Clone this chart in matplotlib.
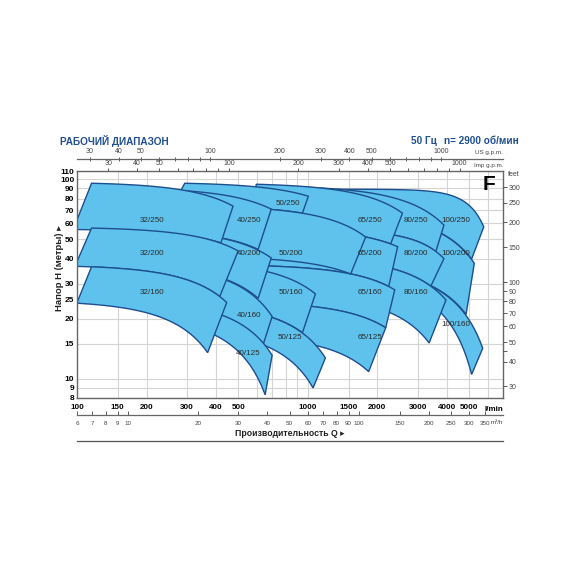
import numpy as np
import matplotlib
matplotlib.use('Agg')
import matplotlib.pyplot as plt
from matplotlib.patches import Polygon
from matplotlib.lines import Line2D

# ---------------- data ----------------
pumps = ['100/250', '100/200', '100/160', '80/250', '80/200', '80/160',
         '65/250', '65/200', '65/160', '65/125',
         '50/250', '50/200', '50/160', '50/125',
         '40/250', '40/200', '40/160', '40/125',
         '32/250', '32/200', '32/160']
# corner points (Q in l/min, H in m): top-left, top-right, bottom-right, bottom-left
tl_q = [597, 597, 597, 597, 597, 597, 597, 597, 597, 725, 293, 259, 259, 322, 259, 259, 259, 269, 115.6, 115.6, 115.6]
tl_h = [89.15, 69.6, 37.1, 92.5, 56.0, 40.9, 94.4, 56.7, 36.9, 23.8, 95.5, 73.5, 38.5, 23.4, 88.4, 54.4, 35.9, 23.5, 95.5, 56.9, 36.4]
tr_q = [5778, 5258, 5718, 3884, 3884, 3964, 2568, 2448, 2378, 2173, 1005, 1779, 1078, 1191, 694, 694, 700, 700, 474, 499, 445]
tr_h = [57.7, 37.9, 14.2, 58.9, 40.0, 24.8, 67.6, 45.9, 27.9, 18.0, 82.2, 51.3, 26.6, 12.7, 70.8, 40.3, 20.5, 13.1, 73.3, 43.7, 24.1]
br_q = [5119, 4844, 5119, 3582, 3407, 3351, 2283, 2239, 2173, 1833, 947, 1532, 947, 1053, 609, 609, 640, 653, 420, 415, 368]
br_h = [39.8, 21.0, 10.5, 43.4, 29.1, 15.1, 47.4, 29.0, 18.0, 10.84, 67.6, 33.5, 17.0, 8.98, 44.5, 25.3, 14.8, 8.3, 48.0, 25.8, 13.5]
bl_q = [597, 597, 597, 597, 597, 597, 597, 597, 597, 725, 259, 259, 259, 322, 259, 259, 259, 269, 96.3, 98.0, 99.8]
bl_h = [69.6, 37.1, 34.0, 56.0, 40.9, 26.4, 56.7, 36.9, 24.0, 15.8, 73.5, 41.0, 23.7, 17.3, 54.4, 35.9, 23.6, 19.1, 56.0, 36.6, 23.9]
top_n = [5, 2, 2, 2, 3, 2, 2, 2, 2, 2, 2, 2, 2, 2, 2, 2, 2, 2, 2, 2, 2]
bot_n = [2, 2, 2, 3, 2, 2, 2, 2, 2, 2, 2, 2, 2, 2, 2, 2, 2, 2, 2, 2, 2]
label_q = [4378, 4378, 4378, 2934, 2934, 2934, 1851, 1851, 1851, 1851, 822, 840, 840, 840, 556, 556, 556, 551, 212, 212, 212]
label_h = [62.4, 42.2, 18.6, 62.4, 42.2, 26.9, 62.4, 42.2, 26.9, 16.0, 75.9, 42.2, 26.9, 16.0, 62.4, 42.2, 20.7, 13.3, 62.4, 42.2, 26.9]

x_ticks = [100, 150, 200, 300, 400, 500, 1000, 1500, 2000, 3000, 4000, 5000]
x_grid = [150, 200, 300, 400, 500, 600, 700, 800, 900, 1000, 1500, 2000, 3000, 4000, 5000, 6000]
y_ticks = [8, 9, 10, 15, 20, 25, 30, 40, 50, 60, 70, 80, 90, 100, 110]
ft_ticks = [30, 40, 50, 60, 70, 80, 90, 100, 150, 200, 250, 300]
ft_minor = [45]
us_ticks = [30, 40, 50, 100, 200, 300, 400, 500, 1000]
imp_ticks = [30, 40, 50, 100, 200, 300, 400, 500, 1000]
m3h_ticks = [6, 7, 8, 9, 10, 20, 30, 40, 50, 60, 70, 80, 90, 100, 150, 200, 250, 300, 350]

L_PER_USG = 3.785
L_PER_IMPG = 4.546
L_PER_M3H = 1000 / 60.0
M_TO_FT = 3.28084

FONT = ['Liberation Sans Narrow', 'Liberation Sans', 'DejaVu Sans']
plt.rcParams['font.family'] = FONT

FILL = '#5EC2EC'
EDGE = '#1D4E8E'
BLUE_T = '#1F4E92'

QMIN, QMAX = 100, 7000
HMIN, HMAX = 8, 110

fig = plt.figure(figsize=(5.7, 5.7), dpi=100)
L, R = 77 / 570, 503 / 570
B, T = 1 - 398 / 570, 1 - 171 / 570
W, H = R - L, T - B
ax = fig.add_axes([L, B, W, H])
ax.set_xscale('log')
ax.set_yscale('log')
ax.set_xlim(QMIN, QMAX)
ax.set_ylim(HMIN, HMAX)

for g in x_grid:
    ax.axvline(g, color='#d4d4d4', lw=0.8, zorder=0)
for g in y_ticks:
    ax.axhline(g, color='#d4d4d4', lw=0.8, zorder=0)


def curve(q1, h1, q2, h2, n, num=80):
    q = np.geomspace(q1, q2, num)
    b = (h1 - h2) / (q2 ** n - q1 ** n)
    a = h1 + b * q1 ** n
    return q, a - b * q ** n


for i, name in enumerate(pumps):
    qt, ht = curve(tl_q[i], tl_h[i], tr_q[i], tr_h[i], top_n[i])
    qb, hb = curve(bl_q[i], bl_h[i], br_q[i], br_h[i], bot_n[i])
    xy = np.vstack([np.column_stack([qt, ht]), np.column_stack([qb[::-1], hb[::-1]])])
    ax.add_patch(Polygon(xy, closed=True, fc=FILL, ec=EDGE, lw=1.0, zorder=2 + i * 0.01))

for i, name in enumerate(pumps):
    ax.text(label_q[i], label_h[i], name, ha='center', va='center', fontsize=5.8,
            color='#2a2a2a', zorder=5)

ax.text(0.968, 0.94, 'F', transform=ax.transAxes, ha='center', va='center',
        fontsize=15, fontweight='bold', family=['Liberation Sans', 'DejaVu Sans'], zorder=6)

ax.set_xticks(x_ticks)
ax.set_xticklabels([str(v) for v in x_ticks])
ax.xaxis.set_minor_locator(matplotlib.ticker.NullLocator())
ax.set_yticks(y_ticks)
ax.set_yticklabels([str(v) for v in y_ticks])
ax.yaxis.set_minor_locator(matplotlib.ticker.NullLocator())
ax.tick_params(axis='y', length=0, labelsize=6, pad=2)
ax.tick_params(axis='x', length=0, labelsize=5.8, pad=4)
for lab in ax.get_xticklabels() + ax.get_yticklabels():
    lab.set_fontweight('bold')
for s in ax.spines.values():
    s.set_color('#666666')
    s.set_linewidth(1.0)
ax.text(1.0, -0.035, 'l/min', transform=ax.transAxes, ha='right', va='top', fontsize=5.8,
        fontweight='bold')

# feet axis on the right
axf = ax.twinx()
axf.set_yscale('log')
axf.set_ylim(HMIN * M_TO_FT, HMAX * M_TO_FT)
axf.set_yticks(ft_ticks)
axf.set_yticklabels([str(v) for v in ft_ticks])
axf.set_yticks(ft_minor, minor=True)
axf.yaxis.set_minor_formatter(matplotlib.ticker.NullFormatter())
axf.tick_params(axis='y', which='both', direction='out', length=3, width=0.6,
                labelsize=5, colors='#444444', pad=1)
for s in axf.spines.values():
    s.set_visible(False)
axf.text(1.012, 0.985, 'feet', transform=axf.transAxes, ha='left', va='center',
         fontsize=5, color='#444444')

# Imp g.p.m. ticks on top spine
axi = fig.add_axes([L, T, W, 1e-4])
axi.set_xscale('log')
axi.set_xlim(QMIN / L_PER_IMPG, QMAX / L_PER_IMPG)
axi.set_yticks([])
for s in axi.spines.values():
    s.set_visible(False)
axi.xaxis.set_ticks_position('top')
axi.set_xticks(imp_ticks)
axi.set_xticklabels([str(v) for v in imp_ticks])
axi.xaxis.set_minor_locator(matplotlib.ticker.LogLocator(base=10, subs=np.arange(2, 10)))
axi.xaxis.set_minor_formatter(matplotlib.ticker.NullFormatter())
axi.tick_params(axis='x', which='both', direction='out', length=2, width=0.6,
                labelsize=5, colors='#444444', pad=0.5)
fig.text(R, T + 3 / 570, 'Imp g.p.m.', ha='right', va='bottom', fontsize=4.5, color='#444444')

# US g.p.m. axis above
yu = 1 - 159 / 570
axu = fig.add_axes([L, yu, W, 1e-4])
axu.set_xscale('log')
axu.set_xlim(QMIN / L_PER_USG, QMAX / L_PER_USG)
axu.set_yticks([])
for s in ['left', 'right', 'bottom']:
    axu.spines[s].set_visible(False)
axu.spines['top'].set_color('#666666')
axu.spines['top'].set_linewidth(0.9)
axu.xaxis.set_ticks_position('top')
axu.set_xticks(us_ticks)
axu.set_xticklabels([str(v) for v in us_ticks])
axu.xaxis.set_minor_locator(matplotlib.ticker.LogLocator(base=10, subs=np.arange(2, 10)))
axu.xaxis.set_minor_formatter(matplotlib.ticker.NullFormatter())
axu.tick_params(axis='x', which='both', direction='inout', length=3, width=0.6,
                labelsize=5, colors='#444444', pad=1)
fig.text(R, yu + 4 / 570, 'US g.p.m.', ha='right', va='bottom', fontsize=4.5, color='#444444')

# m3/h axis below
ym = 1 - 415 / 570
axm = fig.add_axes([L, ym, W, 1e-4])
axm.set_xscale('log')
axm.set_xlim(QMIN / L_PER_M3H, QMAX / L_PER_M3H)
axm.set_yticks([])
for s in ['left', 'right', 'top']:
    axm.spines[s].set_visible(False)
axm.spines['bottom'].set_color('#666666')
axm.spines['bottom'].set_linewidth(0.9)
axm.set_xticks(m3h_ticks)
axm.set_xticklabels([str(v) for v in m3h_ticks])
axm.xaxis.set_minor_locator(matplotlib.ticker.NullLocator())
axm.tick_params(axis='x', which='both', direction='in', length=3, width=0.6,
                labelsize=4.5, colors='#444444', pad=4)
fig.text(R, ym - 5 / 570, 'm³/h', ha='right', va='top', fontsize=4.5, color='#444444')

fig.text((L + R) / 2, 1 - 433 / 570, 'Производительность Q ▸', ha='center', va='center',
         fontsize=6.3, fontweight='bold', color='#222222')
fig.add_artist(Line2D([L, R], [1 - 441 / 570, 1 - 441 / 570], color='#555555', lw=0.9))

fig.text(59 / 570, 1 - 268 / 570, 'Напор H (метры) ▸', rotation=90, ha='center', va='center',
         fontsize=6.8, fontweight='bold', color='#222222')

fig.text(60 / 570, 1 - 141 / 570, 'РАБОЧИЙ ДИАПАЗОН', ha='left', va='center', fontsize=7.2,
         fontweight='bold', color=BLUE_T)
fig.text(437 / 570, 1 - 141 / 570, '50 Гц', ha='right', va='center',
         fontsize=7.2, fontweight='bold', color=BLUE_T)
fig.text(519 / 570, 1 - 141 / 570, 'n= 2900 об/мин', ha='right', va='center',
         fontsize=7.2, fontweight='bold', color=BLUE_T)

fig.savefig('out.png', dpi=100)
